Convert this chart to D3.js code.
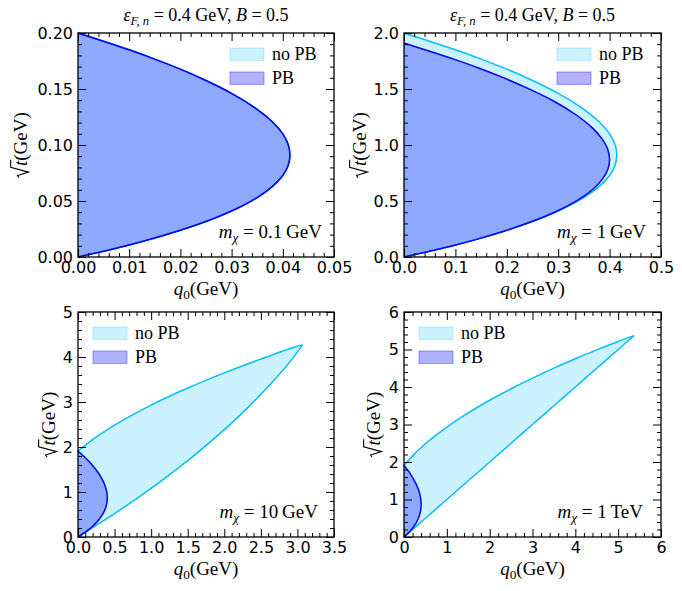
<!DOCTYPE html>
<html>
<head>
<meta charset="utf-8">
<script src="https://cdn.jsdelivr.net/npm/d3@7"></script>
<style>
  body { margin: 0; background: #fff; }
  svg text { font-family: "Liberation Serif", serif; fill: #000; }
</style>
</head>
<body>
<svg id="chart" width="682" height="591"></svg>
<script>
// ---- data (q0 and sqrt(t) in GeV) ----

// m_chi = 0.1 GeV: allowed region, sqrt(t) along the edge and q0 reached there
const lightT  = [0, 0.0052, 0.0108, 0.0170, 0.0239, 0.0317, 0.0411, 0.0531, 0.0631, 0.0728, 0.0810, 0.0910,
                 0.1012, 0.1099, 0.1205, 0.1318, 0.1461, 0.1576, 0.1677, 0.1767, 0.1850, 0.1927, 0.2];
const lightQ0 = [0, 0.005, 0.010, 0.015, 0.020, 0.025, 0.030, 0.035, 0.038, 0.040, 0.041, 0.0414,
                 0.041, 0.040, 0.038, 0.035, 0.030, 0.025, 0.020, 0.015, 0.010, 0.005, 0];

// m_chi = 1 GeV, no Pauli blocking
const gevT  = [0, 0.052, 0.108, 0.170, 0.239, 0.317, 0.411, 0.531, 0.631, 0.728, 0.810, 0.910,
               1.012, 1.099, 1.205, 1.318, 1.461, 1.576, 1.677, 1.767, 1.850, 1.927, 2.0];
const gevQ0 = [0, 0.05, 0.10, 0.15, 0.20, 0.25, 0.30, 0.35, 0.38, 0.40, 0.41, 0.414,
               0.41, 0.40, 0.38, 0.35, 0.30, 0.25, 0.20, 0.15, 0.10, 0.05, 0];

// Pauli blocked region (same for 1 GeV, 10 GeV, 1 TeV)
const pbT  = [0, 0.050, 0.103, 0.162, 0.228, 0.303, 0.393, 0.507, 0.603, 0.695, 0.774, 0.869,
              0.967, 1.050, 1.151, 1.259, 1.395, 1.505, 1.602, 1.688, 1.767, 1.840, 1.91];
const pbQ0 = [0, 0.048, 0.097, 0.145, 0.193, 0.241, 0.290, 0.338, 0.367, 0.386, 0.396, 0.400,
              0.396, 0.386, 0.367, 0.338, 0.290, 0.241, 0.193, 0.145, 0.097, 0.048, 0];

// m_chi = 10 GeV, no PB: upper and lower sqrt(t) edge per q0
const tenQ0    = [0, 0.25, 0.5, 1, 1.5, 2, 2.5, 3, 3.07];
const tenUpper = [1.91, 2.223, 2.487, 2.932, 3.310, 3.647, 3.954, 4.237, 4.27];
const tenLower = [0, 0.259, 0.520, 1.082, 1.698, 2.386, 3.172, 4.107, 4.27];

// m_chi = 1 TeV, no PB
const tevQ0    = [0, 0.25, 0.5, 1, 1.5, 2, 2.5, 3, 3.5, 4, 4.5, 5, 5.37];
const tevUpper = [1.91, 2.223, 2.487, 2.932, 3.310, 3.647, 3.954, 4.237, 4.502, 4.752, 4.989, 5.215, 5.37];
const tevLower = [0, 0.25, 0.5, 1, 1.5, 2, 2.5, 3, 3.5, 4, 4.5, 5, 5.37];

const massLabels = ["0.1\u2009GeV", "1\u2009GeV", "10\u2009GeV", "1\u2009TeV"];
const legendLabels = ["no PB", "PB"];

// ---- layout ----
const panels = [
  { left: 78,  top: 33,  w: 256, h: 224, xMax: 0.05, yMax: 0.2, xStep: 0.01, xMinor: 0.002, yStep: 0.05, yMinor: 0.01,
    xFmt: ".2f", yFmt: ".2f", ylabX: 27,  massX: 322, legendX: 152, title: true },
  { left: 404, top: 33,  w: 257, h: 224, xMax: 0.5,  yMax: 2.0, xStep: 0.1,  xMinor: 0.02,  yStep: 0.5,  yMinor: 0.1,
    xFmt: ".1f", yFmt: ".1f", ylabX: 366, massX: 646, legendX: 153, title: true },
  { left: 78,  top: 312, w: 256, h: 225, xMax: 3.5,  yMax: 5,   xStep: 0.5,  xMinor: 0.1,   yStep: 1,    yMinor: 0.2,
    xFmt: ".1f", yFmt: "d",   ylabX: 55,  massX: 318, legendX: 15 },
  { left: 404, top: 312, w: 257, h: 225, xMax: 6,    yMax: 6,   xStep: 1,    xMinor: 0.2,   yStep: 1,    yMinor: 0.2,
    xFmt: "d",   yFmt: "d",   ylabX: 380, massX: 643, legendX: 15 }
];

const NOPB = "#00bfff", PB = "#0000ff";
const svg = d3.select("#chart");

function stepTicks(max, step) {
  return d3.range(0, Math.round(max / step) + 1).map(i => +(i * step).toFixed(6));
}
function minorTicks(max, step, major) {
  return stepTicks(max, step).filter(v => Math.abs(v / major - Math.round(v / major)) > 1e-6);
}

// text with italic / subscript pieces, mathtext style
function mathText(sel, parts, size) {
  let shifted = 0;
  parts.forEach(p => {
    const ts = sel.append("tspan").text(p.t);
    if (p.i) ts.attr("font-style", "italic");
    if (p.sub) {
      ts.attr("font-size", size * 0.7).attr("dy", 4 - shifted);
      shifted = 4;
    } else if (shifted) {
      ts.attr("dy", -shifted);
      shifted = 0;
    }
  });
  return sel;
}

// rotated "sqrt(t)(GeV)" label with a drawn radical sign
function sqrtLabel(x, cy, fs) {
  const g = svg.append("g").attr("transform", `translate(${x},${cy}) rotate(-90)`);
  const txt = g.append("text").attr("font-size", fs);
  txt.append("tspan").attr("font-style", "italic").text("t");
  txt.append("tspan").text("(GeV)");
  const radW = 0.62 * fs;
  const tW = txt.node().getSubStringLength(0, 1);
  const total = radW + txt.node().getComputedTextLength();
  const x0 = -total / 2;
  txt.attr("x", x0 + radW);
  g.append("path")
    .attr("d", `M${x0},${-0.42 * fs} L${x0 + 0.12 * fs},${-0.5 * fs} L${x0 + 0.3 * fs},${0.08 * fs}` +
               ` L${x0 + 0.55 * fs},${-0.86 * fs} H${x0 + radW + tW + 1}`)
    .attr("fill", "none").attr("stroke", "#000").attr("stroke-width", 1.1)
    .attr("stroke-linejoin", "miter");
}

function lens(g, x, y, ts, qs, color, opacity) {
  const pts = ts.map((t, i) => ({ t, q: qs[i] }));
  g.append("path")
    .attr("d", d3.area().curve(d3.curveMonotoneY)
      .y(d => y(d.t)).x0(x(0)).x1(d => x(d.q))(pts))
    .attr("fill", color).attr("fill-opacity", opacity);
  g.append("path")
    .attr("d", d3.line().curve(d3.curveMonotoneY).x(d => x(d.q)).y(d => y(d.t))(pts))
    .attr("fill", "none").attr("stroke", color).attr("stroke-width", 1.5);
}

function band(g, x, y, qs, up, lo, color, opacity) {
  const pts = qs.map((q, i) => ({ q, u: up[i], l: lo[i] }));
  g.append("path")
    .attr("d", d3.area().curve(d3.curveMonotoneX).x(d => x(d.q)).y0(d => y(d.l)).y1(d => y(d.u))(pts))
    .attr("fill", color).attr("fill-opacity", opacity);
  ["u", "l"].forEach(k => {
    g.append("path")
      .attr("d", d3.line().curve(d3.curveMonotoneX).x(d => x(d.q)).y(d => y(d[k]))(pts))
      .attr("fill", "none").attr("stroke", color).attr("stroke-width", 1.5);
  });
}

function axes(p, x, y) {
  const g = svg.append("g");
  const b = p.top + p.h, r = p.left + p.w;
  const xMaj = stepTicks(p.xMax, p.xStep), xMin = minorTicks(p.xMax, p.xMinor, p.xStep);
  const yMaj = stepTicks(p.yMax, p.yStep), yMin = minorTicks(p.yMax, p.yMinor, p.yStep);

  const defs = [
    [d3.axisBottom, x, xMaj, 8, `translate(0,${b})`, d3.format(p.xFmt)],
    [d3.axisBottom, x, xMin, 4, `translate(0,${b})`, ""],
    [d3.axisTop,    x, xMaj, 8, `translate(0,${p.top})`, ""],
    [d3.axisTop,    x, xMin, 4, `translate(0,${p.top})`, ""],
    [d3.axisLeft,   y, yMaj, 8, `translate(${p.left},0)`, d3.format(p.yFmt)],
    [d3.axisLeft,   y, yMin, 4, `translate(${p.left},0)`, ""],
    [d3.axisRight,  y, yMaj, 8, `translate(${r},0)`, ""],
    [d3.axisRight,  y, yMin, 4, `translate(${r},0)`, ""]
  ];
  defs.forEach(([ax, sc, vals, len, tr, fmt]) => {
    const a = g.append("g").attr("transform", tr)
      .call(ax(sc).tickValues(vals).tickSizeInner(-len).tickSizeOuter(0).tickPadding(5).tickFormat(fmt))
      .attr("font-family", "DejaVu Sans").attr("font-size", 16);
    a.select(".domain").remove();
    a.selectAll("line").attr("stroke-width", 1);
    a.selectAll("text").style("font-family", "DejaVu Sans");
  });

  g.append("rect")
    .attr("x", p.left).attr("y", p.top).attr("width", p.w).attr("height", p.h)
    .attr("fill", "none").attr("stroke", "#000").attr("stroke-width", 1.3);
}

function labels(p, idx) {
  const cx = p.left + p.w / 2;
  mathText(svg.append("text").attr("x", cx).attr("y", p.top + p.h + 38)
    .attr("text-anchor", "middle").attr("font-size", 19),
    [{ t: "q", i: 1 }, { t: "0", sub: 1 }, { t: "(GeV)" }], 19);

  sqrtLabel(p.ylabX, p.top + p.h / 2, 19);

  if (p.title) {
    mathText(svg.append("text").attr("x", cx).attr("y", 21)
      .attr("text-anchor", "middle").attr("font-size", 18),
      [{ t: "\u03B5", i: 1 }, { t: "F, n", i: 1, sub: 1 }, { t: " = 0.4 GeV, " }, { t: "B", i: 1 }, { t: " = 0.5" }], 18);
  }

  mathText(svg.append("text").attr("x", p.massX).attr("y", p.top + p.h - 19)
    .attr("text-anchor", "end").attr("font-size", 19),
    [{ t: "m", i: 1 }, { t: "\u03C7", i: 1, sub: 1 }, { t: " = " + massLabels[idx] }], 19);

  // legend
  const lx = p.left + p.legendX, ly = p.top + 15;
  [[NOPB, 0.2], [PB, 0.3]].forEach(([c, o], k) => {
    svg.append("rect")
      .attr("x", lx).attr("y", ly + k * 24).attr("width", 34).attr("height", 12.5)
      .attr("fill", c).attr("fill-opacity", o)
      .attr("stroke", c).attr("stroke-opacity", o).attr("stroke-width", 1.2);
    svg.append("text").attr("x", lx + 42).attr("y", ly + k * 24 + 12)
      .attr("font-size", 18).text(legendLabels[k]);
  });
}

panels.forEach((p, idx) => {
  const x = d3.scaleLinear().domain([0, p.xMax]).range([p.left, p.left + p.w]);
  const y = d3.scaleLinear().domain([0, p.yMax]).range([p.top + p.h, p.top]);
  const g = svg.append("g");

  if (idx === 0) {
    lens(g, x, y, lightT, lightQ0, NOPB, 0.2);
    lens(g, x, y, lightT, lightQ0, PB, 0.3);
  } else if (idx === 1) {
    lens(g, x, y, gevT, gevQ0, NOPB, 0.2);
    lens(g, x, y, pbT, pbQ0, PB, 0.3);
  } else if (idx === 2) {
    band(g, x, y, tenQ0, tenUpper, tenLower, NOPB, 0.2);
    lens(g, x, y, pbT, pbQ0, PB, 0.3);
  } else {
    band(g, x, y, tevQ0, tevUpper, tevLower, NOPB, 0.2);
    lens(g, x, y, pbT, pbQ0, PB, 0.3);
  }

  axes(p, x, y);
  labels(p, idx);
});
</script>
</body>
</html>
